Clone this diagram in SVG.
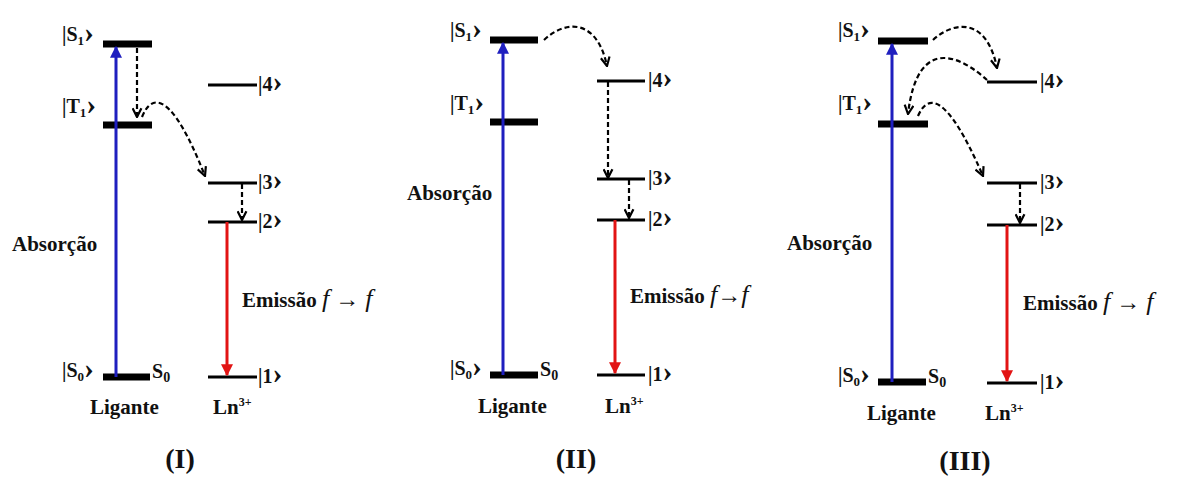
<svg xmlns="http://www.w3.org/2000/svg" width="1181" height="477" viewBox="0 0 1181 477" font-family="'Liberation Serif', 'DejaVu Serif', serif">
<defs>
<marker id="ab" viewBox="0 0 10 10" refX="9" refY="5" markerWidth="4" markerHeight="4" orient="auto"><path d="M0 0 L10 5 L0 10 z" fill="#1f1fbf"/></marker>
<marker id="ar" viewBox="0 0 10 10" refX="9" refY="5" markerWidth="4" markerHeight="4" orient="auto"><path d="M0 0 L10 5 L0 10 z" fill="#e21414"/></marker>
<marker id="ak" viewBox="0 0 10 10" refX="9" refY="5" markerWidth="5" markerHeight="5" orient="auto"><path d="M1 1 L9 5 L1 9" fill="none" stroke="#000" stroke-width="2"/></marker>
</defs>
<style>
.thick{stroke:#000;stroke-width:7}
.thin{stroke:#000;stroke-width:3}
.blue{stroke:#1f1fbf;stroke-width:3;fill:none;marker-end:url(#ab)}
.red{stroke:#e21414;stroke-width:3;fill:none;marker-end:url(#ar)}
.dash{stroke:#000;stroke-width:2.2;stroke-dasharray:5 3;fill:none;marker-end:url(#ak)}
text{font-family:'Liberation Serif','DejaVu Serif',serif;font-weight:bold;fill:#111}
.k{font-size:20px}
.br{font-size:30px}
.lb{font-size:21px}
.f{font-style:italic;font-weight:normal;font-size:26px}
.arr{font-weight:normal;font-size:24px}
.num{font-size:28px}
</style>
<rect width="1181" height="477" fill="#fff"/>

<g id="panel-I">
<line class="thick" x1="103" y1="44" x2="152" y2="44"/>
<line class="thick" x1="103" y1="125" x2="152" y2="125"/>
<line class="thick" x1="103" y1="377" x2="150" y2="377"/>
<line class="thin" x1="208" y1="85" x2="257" y2="85"/>
<line class="thin" x1="208" y1="183" x2="257" y2="183"/>
<line class="thin" x1="208" y1="222" x2="257" y2="222"/>
<line class="thin" x1="208" y1="377" x2="257" y2="377"/>
<text class="k" x="62" y="41">|S<tspan font-size="13" dy="4">1</tspan><tspan class="br" dy="-3">›</tspan></text>
<text class="k" x="62" y="113">|T<tspan font-size="13" dy="4">1</tspan><tspan class="br" dy="-3">›</tspan></text>
<text class="k" x="62" y="377">|S<tspan font-size="13" dy="4">0</tspan><tspan class="br" dy="-3">›</tspan></text>
<text class="k" x="152" y="378" font-weight="normal">S<tspan font-size="14" dy="4">0</tspan></text>
<text class="k" x="258" y="91">|4<tspan class="br">›</tspan></text>
<text class="k" x="258" y="189">|3<tspan class="br">›</tspan></text>
<text class="k" x="258" y="228">|2<tspan class="br">›</tspan></text>
<text class="k" x="258" y="383">|1<tspan class="br">›</tspan></text>
<text class="lb" x="12" y="251">Absorção</text>
<text class="lb" x="242" y="307">Emissão <tspan class="f">f</tspan><tspan class="arr"> → </tspan><tspan class="f">f</tspan></text>
<text class="lb" x="90" y="414">Ligante</text>
<text class="lb" x="213" y="414">Ln<tspan font-size="12" dy="-8">3+</tspan></text>
<text class="num" x="180" y="468" text-anchor="middle">(I)</text>
</g>

<g id="panel-II">
<line class="thick" x1="490" y1="40" x2="538" y2="40"/>
<line class="thick" x1="490" y1="122" x2="538" y2="122"/>
<line class="thick" x1="490" y1="375" x2="538" y2="375"/>
<line class="thin" x1="597" y1="81" x2="645" y2="81"/>
<line class="thin" x1="597" y1="179" x2="645" y2="179"/>
<line class="thin" x1="597" y1="220" x2="645" y2="220"/>
<line class="thin" x1="597" y1="375" x2="645" y2="375"/>
<text class="k" x="450" y="37">|S<tspan font-size="13" dy="4">1</tspan><tspan class="br" dy="-3">›</tspan></text>
<text class="k" x="450" y="110">|T<tspan font-size="13" dy="4">1</tspan><tspan class="br" dy="-3">›</tspan></text>
<text class="k" x="450" y="375">|S<tspan font-size="13" dy="4">0</tspan><tspan class="br" dy="-3">›</tspan></text>
<text class="k" x="540" y="376" font-weight="normal">S<tspan font-size="14" dy="4">0</tspan></text>
<text class="k" x="648" y="87">|4<tspan class="br">›</tspan></text>
<text class="k" x="648" y="185">|3<tspan class="br">›</tspan></text>
<text class="k" x="648" y="226">|2<tspan class="br">›</tspan></text>
<text class="k" x="648" y="381">|1<tspan class="br">›</tspan></text>
<text class="lb" x="407" y="200">Absorção</text>
<text class="lb" x="630" y="303">Emissão <tspan class="f">f</tspan><tspan class="arr">→</tspan><tspan class="f">f</tspan></text>
<text class="lb" x="478" y="413">Ligante</text>
<text class="lb" x="605" y="413">Ln<tspan font-size="12" dy="-8">3+</tspan></text>
<text class="num" x="576" y="468" text-anchor="middle">(II)</text>
</g>

<g id="panel-III">
<line class="thick" x1="878" y1="41" x2="928" y2="41"/>
<line class="thick" x1="878" y1="124" x2="928" y2="124"/>
<line class="thick" x1="878" y1="382" x2="926" y2="382"/>
<line class="thin" x1="987" y1="82" x2="1037" y2="82"/>
<line class="thin" x1="987" y1="183" x2="1037" y2="183"/>
<line class="thin" x1="987" y1="225" x2="1037" y2="225"/>
<line class="thin" x1="987" y1="383" x2="1037" y2="383"/>
<text class="k" x="838" y="37">|S<tspan font-size="13" dy="4">1</tspan><tspan class="br" dy="-3">›</tspan></text>
<text class="k" x="838" y="110">|T<tspan font-size="13" dy="4">1</tspan><tspan class="br" dy="-3">›</tspan></text>
<text class="k" x="838" y="382">|S<tspan font-size="13" dy="4">0</tspan><tspan class="br" dy="-3">›</tspan></text>
<text class="k" x="928" y="383" font-weight="normal">S<tspan font-size="14" dy="4">0</tspan></text>
<text class="k" x="1040" y="88">|4<tspan class="br">›</tspan></text>
<text class="k" x="1040" y="189">|3<tspan class="br">›</tspan></text>
<text class="k" x="1040" y="231">|2<tspan class="br">›</tspan></text>
<text class="k" x="1040" y="389">|1<tspan class="br">›</tspan></text>
<text class="lb" x="787" y="250">Absorção</text>
<text class="lb" x="1023" y="310">Emissão <tspan class="f">f</tspan><tspan class="arr"> → </tspan><tspan class="f">f</tspan></text>
<text class="lb" x="867" y="420">Ligante</text>
<text class="lb" x="985" y="420">Ln<tspan font-size="12" dy="-8">3+</tspan></text>
<text class="num" x="965" y="470" text-anchor="middle">(III)</text>
</g>

<g id="connectors">
<line class="blue" x1="116" y1="377" x2="116" y2="47"/>
<line class="red" x1="227" y1="222" x2="227" y2="375"/>
<line class="dash" x1="137" y1="48" x2="137" y2="117"/>
<path class="dash" d="M142 117 C152 92 172 92 205 176"/>
<line class="dash" x1="242" y1="184" x2="242" y2="220"/>

<line class="blue" x1="503" y1="375" x2="503" y2="43"/>
<line class="red" x1="615" y1="220" x2="615" y2="373"/>
<path class="dash" d="M544 40 C565 20 597 18 607 66"/>
<line class="dash" x1="608" y1="82" x2="608" y2="178"/>
<line class="dash" x1="629" y1="180" x2="629" y2="218"/>

<line class="blue" x1="892" y1="382" x2="892" y2="44"/>
<line class="red" x1="1007" y1="225" x2="1007" y2="381"/>
<path class="dash" d="M933 40 C955 20 987 18 997 68"/>
<path class="dash" d="M987 80 C965 60 918 30 908 114"/>
<path class="dash" d="M918 116 C928 93 947 93 983 176"/>
<line class="dash" x1="1020" y1="184" x2="1020" y2="223"/>
</g>
</svg>
